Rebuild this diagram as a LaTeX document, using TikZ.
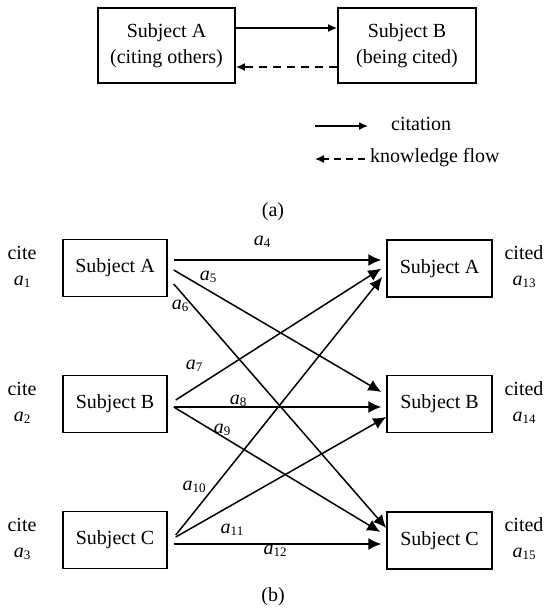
\documentclass[tikz,border=0pt]{standalone}
\usepackage{fontspec}
\setmainfont{Liberation Serif}
\usetikzlibrary{arrows.meta,calc}
\tikzset{
  topbox/.style={draw,line width=1.9pt,minimum width=137pt,minimum height=75pt,align=center,inner sep=0pt,font=\fontsize{20}{26}\selectfont},
  botbox/.style={draw,line width=1.5pt,minimum width=104pt,minimum height=57pt,inner sep=0pt,font=\fontsize{20}{24}\selectfont},
  txt/.style={inner sep=0pt,font=\fontsize{20}{24}\selectfont},
  lbl/.style={inner sep=0pt,font=\fontsize{20}{24}\selectfont},
  toparr/.style={line width=1.4pt,-{Latex[length=9pt,width=8pt]}},
  arr/.style={line width=1.5pt,-{Latex[length=13pt,width=12pt]}},
  dsh/.style={dash pattern=on 8pt off 6pt}
}
\newcommand{\av}[1]{\textit{a}\raisebox{-0.25ex}{\fontsize{13}{14}\selectfont #1}}
\begin{document}
\begin{tikzpicture}[x=1pt,y=-1pt]
\useasboundingbox (0,0) rectangle (547,611);
% (a)
\node[topbox] (TA) at (166.5,45.5) {Subject A\\(citing others)};
\node[topbox,minimum width=138pt] (TB) at (407,45.5) {Subject B\\(being cited)};
\draw[toparr] ($(TA.east)+(0,-17.5)$) -- ($(TB.west)+(0,-17.5)$);
\draw[toparr,dsh] ($(TB.west)+(0,21.5)$) -- ($(TA.east)+(0,21.5)$);
\coordinate (L1s) at (315,126);
\coordinate (L1e) at (368,126);
\draw[toparr] (L1s) -- (L1e);
\node[txt,anchor=west] (Lc) at (391,124) {citation};
\coordinate (L2s) at (365,159);
\coordinate (L2e) at (315,159);
\draw[toparr,dash pattern=on 7pt off 5pt] (L2s) -- (L2e);
\node[txt,anchor=west] (Lk) at (370,158) {knowledge flow};
\node[txt] (capa) at (273,212) {(a)};
% (b)
\node[botbox] (LA) at (115,268) {Subject A};
\node[botbox] (LB) at (115,404) {Subject B};
\node[botbox] (LC) at (115,540) {Subject C};
\node[botbox,minimum width=105pt] (RA) at (439.5,268.5) {Subject A};
\node[botbox,minimum width=105pt] (RB) at (439.5,404) {Subject B};
\node[botbox,minimum width=105pt] (RC) at (439.5,540.5) {Subject C};
\node[txt] (c1) at (22,253) {cite};
\node[txt] (v1) at (22,282) {\av{1}};
\node[txt] (c2) at (22,389) {cite};
\node[txt] (v2) at (22,418) {\av{2}};
\node[txt] (c3) at (22,525) {cite};
\node[txt] (v3) at (22,554) {\av{3}};
\node[txt] (c4) at (524,253) {cited};
\node[txt] (v4) at (524,282) {\av{13}};
\node[txt] (c5) at (524,389) {cited};
\node[txt] (v5) at (524,418) {\av{14}};
\node[txt] (c6) at (524,525) {cited};
\node[txt] (v6) at (524,554) {\av{15}};
% arrows
\draw[arr] ($(LA.east)+(6,-8)$) -- ($(RA.west)+(-5,-8.5)$);
\draw[arr] ($(LA.east)+(6,2)$) -- ($(RB.west)+(-5,-12)$);
\draw[arr] ($(LA.east)+(6,16)$) -- ($(RC.west)+(0,-12.5)$);
\draw[arr] ($(LB.east)+(8,-4)$) -- ($(RA.west)+(-5,0)$);
\draw[arr] ($(LB.east)+(6,3)$) -- ($(RB.west)+(-5,3)$);
\draw[arr] ($(LB.east)+(6,3)$) -- ($(RC.west)+(-6,-8.5)$);
\draw[arr] ($(LC.east)+(8,-5)$) -- ($(RA.west)+(-4,8.5)$);
\draw[arr] ($(LC.east)+(8,-3)$) -- ($(RB.west)+(0,13)$);
\draw[arr] ($(LC.east)+(6,4)$) -- ($(RC.west)+(-5,3.5)$);
% labels
\node[lbl] (a4) at (262,242) {\av{4}};
\node[lbl] (a5) at (208,277) {\av{5}};
\node[lbl] (a6) at (180,306) {\av{6}};
\node[lbl] (a7) at (194,366) {\av{7}};
\node[lbl] (a8) at (238,401) {\av{8}};
\node[lbl] (a9) at (222,430) {\av{9}};
\node[lbl] (a10) at (194,487) {\av{10}};
\node[lbl] (a11) at (232,530) {\av{11}};
\node[lbl] (a12) at (275,551) {\av{12}};
\node[txt] (capb) at (273,597) {(b)};
\end{tikzpicture}
\end{document}
